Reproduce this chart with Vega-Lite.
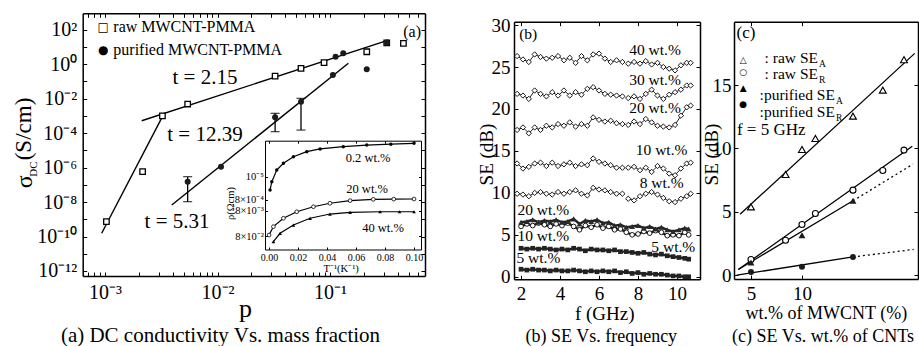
{
"$schema":"https://vega.github.io/schema/vega-lite/v6.json",
"width":919,"height":346,"padding":0,"autosize":{"type":"none"},
"background":"white",
"config":{
 "view":{"stroke":null},
 "font":"Liberation Serif",
 "axis":{"grid":false,"domainColor":"black","tickColor":"black","labelColor":"black","titleColor":"black","labelFont":"Liberation Serif","titleFont":"Liberation Serif","titleFontWeight":"normal","domainWidth":1.5,"tickWidth":1,"labelFlush":false,"labelOverlap":false,"tickSize":-4},
 "text":{"font":"Liberation Serif","color":"black"},
 "point":{"opacity":1}
},
"datasets":{
 "a_fit":[{"id":1,"p":0.000935,"s":1.55e-10},{"id":1,"p":0.0033,"s":0.00112},{"id":2,"p":0.00212,"s":0.000513},{"id":2,"p":0.33,"s":24.5},{"id":3,"p":0.00392,"s":6.76e-9},{"id":3,"p":0.1456,"s":1.1}],
 "a_raw":[{"p":0.00103,"s":7.24e-10},{"p":0.00216,"s":5.75e-7},{"p":0.00324,"s":0.000977},{"p":0.00543,"s":0.00479},{"p":0.0325,"s":0.2},{"p":0.0552,"s":0.562},{"p":0.0885,"s":1.2},{"p":0.212,"s":5.13},{"p":0.319,"s":17},{"p":0.449,"s":15.8}],
 "a_pur":[{"p":0.00543,"s":1.51e-7,"lo":1.05e-8,"hi":2.95e-7},{"p":0.01074,"s":1.12e-6},{"p":0.0325,"s":0.000813,"lo":0.00012,"hi":0.00138},{"p":0.0552,"s":0.00646,"lo":0.000148,"hi":0.0102},{"p":0.106,"s":0.229},{"p":0.112,"s":2.63},{"p":0.131,"s":4.17},{"p":0.212,"s":0.49},{"p":0.319,"s":17.8}],
 "a_txt":[{"p":0.00774,"s":0.155,"t":"t = 2.15"},{"p":0.00774,"s":0.000076,"t":"t = 12.39"},{"p":0.00437,"s":6.9e-10,"t":"t = 5.31"}],
 "a_leg":[{"p":0.001186,"s":135,"t":"raw MWCNT-PMMA"},{"p":0.001186,"s":6.46,"t":"purified MWCNT-PMMA"},{"p":0.447,"s":72,"t":"(a)"}],
 "a_sym":[{"p":0.000966,"s":135,"t":"□"},{"p":0.000966,"s":6.46,"t":"●"}],
 "a_sig":[{"p":0.000223,"s":1.5e-7,"t":"σ"}],
 "a_dc":[{"p":0.000247,"s":8.2e-7,"t":"DC"}],
 "ins":[
  {"c":"0.2","T":0.0007,"r":0.547},{"c":"0.2","T":0.0019,"r":0.623},{"c":"0.2","T":0.0053,"r":0.731},{"c":"0.2","T":0.0099,"r":0.792},{"c":"0.2","T":0.0168,"r":0.853},{"c":"0.2","T":0.026,"r":0.899},{"c":"0.2","T":0.0352,"r":0.924},{"c":"0.2","T":0.0512,"r":0.945},{"c":"0.2","T":0.0674,"r":0.96},{"c":"0.2","T":0.084,"r":0.968},{"c":"0.2","T":0.1,"r":0.976},
  {"c":"20","T":0.0,"r":0.133},{"c":"20","T":0.003,"r":0.21},{"c":"20","T":0.0099,"r":0.287},{"c":"20","T":0.0191,"r":0.347},{"c":"20","T":0.0306,"r":0.393},{"c":"20","T":0.042,"r":0.425},{"c":"20","T":0.0559,"r":0.449},{"c":"20","T":0.0719,"r":0.461},{"c":"20","T":0.086,"r":0.463},{"c":"20","T":0.1,"r":0.464},
  {"c":"40","T":0.003,"r":0.072},{"c":"40","T":0.0076,"r":0.149},{"c":"40","T":0.0168,"r":0.225},{"c":"40","T":0.0283,"r":0.287},{"c":"40","T":0.042,"r":0.326},{"c":"40","T":0.0559,"r":0.342},{"c":"40","T":0.0766,"r":0.347},{"c":"40","T":0.09,"r":0.347},{"c":"40","T":0.1,"r":0.347}],
 "ins_t":[{"T":0.0683,"r":0.841,"t":"0.2 wt.%"},{"T":0.0676,"r":0.556,"t":"20 wt.%"},{"T":0.0786,"r":0.198,"t":"40 wt.%"}],
 "braw":[
  {"s":"40","g":1,"f":1.8,"v":26.3},{"s":"40","g":1,"f":2.1,"v":25.9},{"s":"40","g":1,"f":2.4,"v":25.6},{"s":"40","g":1,"f":2.7,"v":26.5},{"s":"40","g":1,"f":3.0,"v":26.2},{"s":"40","g":1,"f":3.3,"v":26.0},{"s":"40","g":1,"f":3.6,"v":26.1},{"s":"40","g":1,"f":3.9,"v":26.3},{"s":"40","g":1,"f":4.2,"v":25.8},{"s":"40","g":1,"f":4.5,"v":26.1},{"s":"40","g":1,"f":4.8,"v":25.5},{"s":"40","g":1,"f":5.1,"v":26.3},{"s":"40","g":1,"f":5.4,"v":25.8},{"s":"40","g":1,"f":5.7,"v":26.5},{"s":"40","g":1,"f":6.0,"v":26.6},{"s":"40","g":1,"f":6.3,"v":26.0},{"s":"40","g":1,"f":6.6,"v":25.6},{"s":"40","g":1,"f":6.9,"v":25.8},{"s":"40","g":1,"f":7.2,"v":25.6},
  {"s":"40","g":2,"f":7.5,"v":25.4},{"s":"40","g":2,"f":7.8,"v":25.6},{"s":"40","g":2,"f":8.1,"v":25.4},{"s":"40","g":2,"f":8.4,"v":25.7},{"s":"40","g":2,"f":8.7,"v":25.3},{"s":"40","g":2,"f":9.0,"v":25.5},{"s":"40","g":2,"f":9.3,"v":25.0},{"s":"40","g":2,"f":9.6,"v":24.8},{"s":"40","g":2,"f":9.9,"v":24.6},{"s":"40","g":2,"f":10.2,"v":25.2},{"s":"40","g":2,"f":10.5,"v":25.5},{"s":"40","g":2,"f":10.7,"v":25.5},
  {"s":"30","g":1,"f":1.8,"v":21.8},{"s":"30","g":1,"f":2.1,"v":21.6},{"s":"30","g":1,"f":2.4,"v":21.2},{"s":"30","g":1,"f":2.7,"v":22.2},{"s":"30","g":1,"f":3.0,"v":21.8},{"s":"30","g":1,"f":3.3,"v":21.5},{"s":"30","g":1,"f":3.6,"v":22.0},{"s":"30","g":1,"f":3.9,"v":21.6},{"s":"30","g":1,"f":4.2,"v":22.2},{"s":"30","g":1,"f":4.5,"v":21.6},{"s":"30","g":1,"f":4.8,"v":22.0},{"s":"30","g":1,"f":5.1,"v":21.7},{"s":"30","g":1,"f":5.4,"v":22.4},{"s":"30","g":1,"f":5.7,"v":22.6},{"s":"30","g":1,"f":6.0,"v":22.2},{"s":"30","g":1,"f":6.3,"v":21.8},{"s":"30","g":1,"f":6.6,"v":21.7},{"s":"30","g":1,"f":6.9,"v":21.6},{"s":"30","g":1,"f":7.2,"v":21.5},
  {"s":"30","g":2,"f":7.5,"v":21.3},{"s":"30","g":2,"f":7.8,"v":21.5},{"s":"30","g":2,"f":8.1,"v":21.2},{"s":"30","g":2,"f":8.4,"v":21.8},{"s":"30","g":2,"f":8.7,"v":22.3},{"s":"30","g":2,"f":9.0,"v":21.6},{"s":"30","g":2,"f":9.3,"v":21.2},{"s":"30","g":2,"f":9.6,"v":21.7},{"s":"30","g":2,"f":9.9,"v":22.0},{"s":"30","g":2,"f":10.2,"v":22.3},{"s":"30","g":2,"f":10.5,"v":22.8},{"s":"30","g":2,"f":10.7,"v":22.8},
  {"s":"20","g":1,"f":1.8,"v":17.5},{"s":"20","g":1,"f":2.1,"v":17.8},{"s":"20","g":1,"f":2.4,"v":17.1},{"s":"20","g":1,"f":2.7,"v":17.8},{"s":"20","g":1,"f":3.0,"v":17.5},{"s":"20","g":1,"f":3.3,"v":18.0},{"s":"20","g":1,"f":3.6,"v":17.8},{"s":"20","g":1,"f":3.9,"v":18.2},{"s":"20","g":1,"f":4.2,"v":18.0},{"s":"20","g":1,"f":4.5,"v":18.4},{"s":"20","g":1,"f":4.8,"v":17.9},{"s":"20","g":1,"f":5.1,"v":18.2},{"s":"20","g":1,"f":5.4,"v":18.0},{"s":"20","g":1,"f":5.7,"v":19.0},{"s":"20","g":1,"f":6.0,"v":18.7},{"s":"20","g":1,"f":6.3,"v":18.5},{"s":"20","g":1,"f":6.6,"v":18.6},{"s":"20","g":1,"f":6.9,"v":18.3},{"s":"20","g":1,"f":7.2,"v":18.2},
  {"s":"20","g":2,"f":7.5,"v":18.1},{"s":"20","g":2,"f":7.8,"v":18.5},{"s":"20","g":2,"f":8.1,"v":18.2},{"s":"20","g":2,"f":8.4,"v":18.8},{"s":"20","g":2,"f":8.7,"v":18.4},{"s":"20","g":2,"f":9.0,"v":18.0},{"s":"20","g":2,"f":9.3,"v":17.9},{"s":"20","g":2,"f":9.6,"v":17.8},{"s":"20","g":2,"f":9.9,"v":18.1},{"s":"20","g":2,"f":10.2,"v":19.2},{"s":"20","g":2,"f":10.5,"v":20.2},{"s":"20","g":2,"f":10.7,"v":20.4},
  {"s":"10","g":1,"f":1.8,"v":13.5},{"s":"10","g":1,"f":2.1,"v":12.9},{"s":"10","g":1,"f":2.4,"v":13.1},{"s":"10","g":1,"f":2.7,"v":13.5},{"s":"10","g":1,"f":3.0,"v":13.6},{"s":"10","g":1,"f":3.3,"v":13.2},{"s":"10","g":1,"f":3.6,"v":13.6},{"s":"10","g":1,"f":3.9,"v":13.2},{"s":"10","g":1,"f":4.2,"v":13.4},{"s":"10","g":1,"f":4.5,"v":13.6},{"s":"10","g":1,"f":4.8,"v":13.2},{"s":"10","g":1,"f":5.1,"v":13.4},{"s":"10","g":1,"f":5.4,"v":13.3},{"s":"10","g":1,"f":5.7,"v":14.1},{"s":"10","g":1,"f":6.0,"v":13.7},{"s":"10","g":1,"f":6.3,"v":13.5},{"s":"10","g":1,"f":6.6,"v":13.3},{"s":"10","g":1,"f":6.9,"v":13.0},{"s":"10","g":1,"f":7.2,"v":13.0},
  {"s":"10","g":2,"f":7.5,"v":13.0},{"s":"10","g":2,"f":7.8,"v":13.1},{"s":"10","g":2,"f":8.1,"v":12.7},{"s":"10","g":2,"f":8.4,"v":13.0},{"s":"10","g":2,"f":8.7,"v":12.5},{"s":"10","g":2,"f":9.0,"v":13.2},{"s":"10","g":2,"f":9.3,"v":12.9},{"s":"10","g":2,"f":9.6,"v":12.3},{"s":"10","g":2,"f":9.9,"v":12.1},{"s":"10","g":2,"f":10.2,"v":12.9},{"s":"10","g":2,"f":10.5,"v":13.5},{"s":"10","g":2,"f":10.7,"v":13.6},
  {"s":"8","g":1,"f":1.8,"v":9.9},{"s":"8","g":1,"f":2.1,"v":9.8},{"s":"8","g":1,"f":2.4,"v":9.6},{"s":"8","g":1,"f":2.7,"v":10.0},{"s":"8","g":1,"f":3.0,"v":10.1},{"s":"8","g":1,"f":3.3,"v":9.9},{"s":"8","g":1,"f":3.6,"v":9.8},{"s":"8","g":1,"f":3.9,"v":10.1},{"s":"8","g":1,"f":4.2,"v":9.9},{"s":"8","g":1,"f":4.5,"v":10.1},{"s":"8","g":1,"f":4.8,"v":10.3},{"s":"8","g":1,"f":5.1,"v":9.9},{"s":"8","g":1,"f":5.4,"v":9.7},{"s":"8","g":1,"f":5.7,"v":10.6},{"s":"8","g":1,"f":6.0,"v":10.4},{"s":"8","g":1,"f":6.3,"v":10.3},{"s":"8","g":1,"f":6.6,"v":10.1},{"s":"8","g":1,"f":6.9,"v":9.9},{"s":"8","g":1,"f":7.2,"v":9.9},
  {"s":"8","g":2,"f":7.5,"v":9.3},{"s":"8","g":2,"f":7.8,"v":9.1},{"s":"8","g":2,"f":8.1,"v":9.6},{"s":"8","g":2,"f":8.4,"v":9.9},{"s":"8","g":2,"f":8.7,"v":10.1},{"s":"8","g":2,"f":9.0,"v":9.8},{"s":"8","g":2,"f":9.3,"v":9.4},{"s":"8","g":2,"f":9.6,"v":9.0},{"s":"8","g":2,"f":9.9,"v":8.9},{"s":"8","g":2,"f":10.2,"v":9.3},{"s":"8","g":2,"f":10.5,"v":9.6},{"s":"8","g":2,"f":10.7,"v":9.9}],
 "bpur":[
  {"s":"p20","f":2.0,"v":6.5},{"s":"p20","f":2.3,"v":6.6},{"s":"p20","f":2.6,"v":6.8},{"s":"p20","f":2.9,"v":6.5},{"s":"p20","f":3.2,"v":6.7},{"s":"p20","f":3.5,"v":6.6},{"s":"p20","f":3.8,"v":6.8},{"s":"p20","f":4.1,"v":6.5},{"s":"p20","f":4.4,"v":6.6},{"s":"p20","f":4.7,"v":6.9},{"s":"p20","f":5.0,"v":6.3},{"s":"p20","f":5.3,"v":6.7},{"s":"p20","f":5.6,"v":6.6},{"s":"p20","f":5.9,"v":6.8},{"s":"p20","f":6.2,"v":6.4},{"s":"p20","f":6.5,"v":6.5},{"s":"p20","f":6.8,"v":6.1},{"s":"p20","f":7.1,"v":6.2},{"s":"p20","f":7.4,"v":5.9},{"s":"p20","f":7.7,"v":6.0},{"s":"p20","f":8.0,"v":6.1},{"s":"p20","f":8.3,"v":5.8},{"s":"p20","f":8.6,"v":6.0},{"s":"p20","f":8.9,"v":5.7},{"s":"p20","f":9.2,"v":5.9},{"s":"p20","f":9.5,"v":5.6},{"s":"p20","f":9.8,"v":5.4},{"s":"p20","f":10.1,"v":5.6},{"s":"p20","f":10.4,"v":5.8},{"s":"p20","f":10.6,"v":5.7},
  {"s":"p10","f":2.0,"v":6.0},{"s":"p10","f":2.3,"v":6.3},{"s":"p10","f":2.6,"v":6.1},{"s":"p10","f":2.9,"v":6.4},{"s":"p10","f":3.2,"v":6.2},{"s":"p10","f":3.5,"v":6.0},{"s":"p10","f":3.8,"v":6.3},{"s":"p10","f":4.1,"v":6.1},{"s":"p10","f":4.4,"v":6.4},{"s":"p10","f":4.7,"v":6.0},{"s":"p10","f":5.0,"v":5.6},{"s":"p10","f":5.3,"v":6.1},{"s":"p10","f":5.6,"v":5.9},{"s":"p10","f":5.9,"v":6.2},{"s":"p10","f":6.2,"v":5.8},{"s":"p10","f":6.5,"v":6.0},{"s":"p10","f":6.8,"v":5.6},{"s":"p10","f":7.1,"v":5.7},{"s":"p10","f":7.4,"v":5.3},{"s":"p10","f":7.7,"v":5.0},{"s":"p10","f":8.0,"v":5.1},{"s":"p10","f":8.3,"v":5.4},{"s":"p10","f":8.6,"v":5.2},{"s":"p10","f":8.9,"v":5.5},{"s":"p10","f":9.2,"v":5.3},{"s":"p10","f":9.5,"v":4.9},{"s":"p10","f":9.8,"v":5.0},{"s":"p10","f":10.1,"v":4.9},{"s":"p10","f":10.4,"v":5.3},{"s":"p10","f":10.6,"v":5.0},
  {"s":"p5a","f":2.0,"v":3.4},{"s":"p5a","f":2.3,"v":3.3},{"s":"p5a","f":2.6,"v":3.4},{"s":"p5a","f":2.9,"v":3.3},{"s":"p5a","f":3.2,"v":3.4},{"s":"p5a","f":3.5,"v":3.3},{"s":"p5a","f":3.8,"v":3.2},{"s":"p5a","f":4.1,"v":3.3},{"s":"p5a","f":4.4,"v":3.2},{"s":"p5a","f":4.7,"v":3.4},{"s":"p5a","f":5.0,"v":3.3},{"s":"p5a","f":5.3,"v":3.1},{"s":"p5a","f":5.6,"v":3.3},{"s":"p5a","f":5.9,"v":3.2},{"s":"p5a","f":6.2,"v":3.2},{"s":"p5a","f":6.5,"v":3.1},{"s":"p5a","f":6.8,"v":3.2},{"s":"p5a","f":7.1,"v":3.0},{"s":"p5a","f":7.4,"v":3.0},{"s":"p5a","f":7.7,"v":2.9},{"s":"p5a","f":8.0,"v":2.8},{"s":"p5a","f":8.3,"v":2.9},{"s":"p5a","f":8.6,"v":2.7},{"s":"p5a","f":8.9,"v":2.6},{"s":"p5a","f":9.2,"v":2.7},{"s":"p5a","f":9.5,"v":2.5},{"s":"p5a","f":9.8,"v":2.4},{"s":"p5a","f":10.1,"v":2.3},{"s":"p5a","f":10.4,"v":2.2},{"s":"p5a","f":10.6,"v":2.1},
  {"s":"p5b","f":2.0,"v":0.9},{"s":"p5b","f":2.3,"v":0.8},{"s":"p5b","f":2.6,"v":0.9},{"s":"p5b","f":2.9,"v":0.8},{"s":"p5b","f":3.2,"v":0.8},{"s":"p5b","f":3.5,"v":0.7},{"s":"p5b","f":3.8,"v":0.8},{"s":"p5b","f":4.1,"v":0.7},{"s":"p5b","f":4.4,"v":0.7},{"s":"p5b","f":4.7,"v":0.8},{"s":"p5b","f":5.0,"v":0.7},{"s":"p5b","f":5.3,"v":0.6},{"s":"p5b","f":5.6,"v":0.7},{"s":"p5b","f":5.9,"v":0.6},{"s":"p5b","f":6.2,"v":0.7},{"s":"p5b","f":6.5,"v":0.6},{"s":"p5b","f":6.8,"v":0.7},{"s":"p5b","f":7.1,"v":0.5},{"s":"p5b","f":7.4,"v":0.6},{"s":"p5b","f":7.7,"v":0.4},{"s":"p5b","f":8.0,"v":0.5},{"s":"p5b","f":8.3,"v":0.3},{"s":"p5b","f":8.6,"v":0.4},{"s":"p5b","f":8.9,"v":0.3},{"s":"p5b","f":9.2,"v":0.3},{"s":"p5b","f":9.5,"v":0.2},{"s":"p5b","f":9.8,"v":0.1},{"s":"p5b","f":10.1,"v":0.1},{"s":"p5b","f":10.4,"v":0.0},{"s":"p5b","f":10.6,"v":0.0}],
 "b_t":[{"f":8.87,"v":27.0,"t":"40 wt.%"},{"f":8.87,"v":23.4,"t":"30 wt.%"},{"f":8.87,"v":20.1,"t":"20 wt.%"},{"f":9.21,"v":15.08,"t":"10 wt.%"},{"f":9.21,"v":11.12,"t":"8 wt.%"},{"f":3.14,"v":7.94,"t":"20 wt.%"},{"f":3.14,"v":4.88,"t":"10 wt.%"},{"f":9.81,"v":3.5,"t":"5 wt.%"},{"f":2.89,"v":2.19,"t":"5 wt.%"},{"f":2.37,"v":28.98,"t":"(b)"}],
 "c_fit":[{"id":"a","w":4.31,"v":4.81},{"id":"a","w":46.3,"v":17.5},{"id":"r","w":4.21,"v":0.45},{"id":"r","w":44.8,"v":10.18},{"id":"pa","w":4.21,"v":0.45},{"id":"pa","w":20,"v":5.87},{"id":"pr","w":4.12,"v":0.0},{"id":"pr","w":20,"v":1.44}],
 "c_dot":[{"id":"pa","w":20,"v":5.87},{"id":"pa","w":45.2,"v":8.76},{"id":"pr","w":20,"v":1.44},{"id":"pr","w":45.6,"v":2.03}],
 "c_pts":[{"k":"rA","w":5,"v":5.39},{"k":"rA","w":8,"v":7.95},{"k":"rA","w":10,"v":9.92},{"k":"rA","w":12,"v":10.79},{"k":"rA","w":20,"v":12.55},{"k":"rA","w":30,"v":14.6},{"k":"rA","w":40,"v":17.0},{"k":"rR","w":5,"v":1.24},{"k":"rR","w":8,"v":2.76},{"k":"rR","w":10,"v":4.0},{"k":"rR","w":12,"v":4.87},{"k":"rR","w":20,"v":6.71},{"k":"rR","w":30,"v":8.26},{"k":"rR","w":40,"v":9.87},{"k":"pA","w":5,"v":1.0},{"k":"pA","w":10,"v":3.16},{"k":"pA","w":20,"v":5.87},{"k":"pR","w":5,"v":0.26},{"k":"pR","w":10,"v":0.66},{"k":"pR","w":20,"v":1.44}],
 "c_leg":[{"w":12.43,"v":17.13,"t":": raw SE","u":"A"},{"w":12.43,"v":15.86,"t":": raw SE","u":"R"},{"w":15.65,"v":14.2,"t":":purified SE","u":"A"},{"w":15.65,"v":12.87,"t":":purified SE","u":"R"}],
 "c_sym":[{"w":4.5,"v":16.97,"t":"△"},{"w":4.5,"v":16.05,"t":"○"},{"w":4.5,"v":14.74,"t":"▲"},{"w":4.5,"v":13.5,"t":"●"}],
 "c_misc":[{"w":4.11,"v":19.08,"t":"(c)"},{"w":4.13,"v":11.44,"t":"f = 5 GHz"}]
},
"layer":[
 {
  "layer":[
   {"data":{"name":"a_fit"},"mark":{"type":"line","color":"black","strokeWidth":1.4},
    "encoding":{
     "x":{"field":"p","type":"quantitative","scale":{"type":"log","domain":[0.000634,0.698],"range":[82.7,425],"nice":false},
      "axis":{"orient":"bottom","offset":-70,"values":[0.0007,0.0008,0.0009,0.001,0.002,0.003,0.004,0.005,0.006,0.007,0.008,0.009,0.01,0.02,0.03,0.04,0.05,0.06,0.07,0.08,0.09,0.1,0.2,0.3,0.4,0.5,0.6],"labelExpr":"datum.value == 0.001 ? '10⁻³' : datum.value == 0.01 ? '10⁻²' : datum.value == 0.1 ? '10⁻¹' : ''","labelPadding":20,"labelBaseline":"middle","labelFontSize":20,"labelFont":"Liberation Serif","title":"p","titleFont":"Liberation Serif","titleFontSize":26,"titleX":245,"titleY":32,"titleBaseline":"middle","titleAlign":"center"}},
     "y":{"field":"s","type":"quantitative","scale":{"type":"log","domain":[5.13e-13,871],"range":[276,13.3],"nice":false},
      "axis":{"orient":"left","offset":-82.7,"values":[1e-12,1e-11,1e-10,1e-9,1e-8,1e-7,1e-6,1e-5,1e-4,1e-3,0.01,0.1,1,10,100],"labelExpr":"datum.value == 100 ? '10²' : datum.value == 1 ? '10⁰' : datum.value == 0.01 ? '10⁻²' : datum.value == 0.0001 ? '10⁻⁴' : datum.value == 0.000001 ? '10⁻⁶' : datum.value == 1e-8 ? '10⁻⁸' : datum.value == 1e-10 ? '10⁻¹⁰' : datum.value == 1e-12 ? '10⁻¹²' : ''","labelPadding":10,"labelFontSize":20,"labelFont":"Liberation Serif","title":"(S/cm)","titleFont":"Liberation Serif","titleFontSize":23,"titleX":-59.2,"titleY":128.5,"titleAngle":-90,"titleBaseline":"middle","titleAlign":"center"}},
     "detail":{"field":"id"}}},
   {"data":{"name":"a_raw"},"mark":{"type":"point","shape":"square","size":30,"filled":true,"fill":"white","stroke":"black","strokeWidth":1.3},
    "encoding":{
     "x":{"field":"p","type":"quantitative","scale":{"type":"log","domain":[0.000634,0.698],"range":[82.7,425],"nice":false},
      "axis":{"orient":"top","offset":-13.3,"values":[0.0007,0.0008,0.0009,0.001,0.002,0.003,0.004,0.005,0.006,0.007,0.008,0.009,0.01,0.02,0.03,0.04,0.05,0.06,0.07,0.08,0.09,0.1,0.2,0.3,0.4,0.5,0.6],"labels":false,"title":null}},
     "y":{"field":"s","type":"quantitative","scale":{"type":"log","domain":[5.13e-13,871],"range":[276,13.3],"nice":false},
      "axis":{"orient":"right","offset":-494,"values":[1e-12,1e-11,1e-10,1e-9,1e-8,1e-7,1e-6,1e-5,1e-4,1e-3,0.01,0.1,1,10,100],"labels":false,"title":null}}}},
   {"data":{"name":"a_pur"},"transform":[{"filter":"isValid(datum.lo)"}],"mark":{"type":"rule","color":"black","strokeWidth":1.3},
    "encoding":{
     "x":{"field":"p","type":"quantitative","scale":{"type":"log","domain":[0.000634,0.698],"range":[82.7,425],"nice":false},"axis":null},
     "y":{"field":"lo","type":"quantitative","scale":{"type":"log","domain":[5.13e-13,871],"range":[276,13.3],"nice":false},"axis":null},
     "y2":{"field":"hi"}}},
   {"data":{"name":"a_pur"},"transform":[{"filter":"isValid(datum.lo)"}],"mark":{"type":"tick","orient":"horizontal","size":9,"thickness":1.3,"color":"black"},
    "encoding":{
     "x":{"field":"p","type":"quantitative","scale":{"type":"log","domain":[0.000634,0.698],"range":[82.7,425],"nice":false},"axis":null},
     "y":{"field":"lo","type":"quantitative","scale":{"type":"log","domain":[5.13e-13,871],"range":[276,13.3],"nice":false},"axis":null}}},
   {"data":{"name":"a_pur"},"transform":[{"filter":"isValid(datum.lo)"}],"mark":{"type":"tick","orient":"horizontal","size":9,"thickness":1.3,"color":"black"},
    "encoding":{
     "x":{"field":"p","type":"quantitative","scale":{"type":"log","domain":[0.000634,0.698],"range":[82.7,425],"nice":false},"axis":null},
     "y":{"field":"hi","type":"quantitative","scale":{"type":"log","domain":[5.13e-13,871],"range":[276,13.3],"nice":false},"axis":null}}},
   {"data":{"name":"a_pur"},"mark":{"type":"point","shape":"circle","size":36,"filled":true,"color":"#1a1a1a"},
    "encoding":{
     "x":{"field":"p","type":"quantitative","scale":{"type":"log","domain":[0.000634,0.698],"range":[82.7,425],"nice":false},"axis":null},
     "y":{"field":"s","type":"quantitative","scale":{"type":"log","domain":[5.13e-13,871],"range":[276,13.3],"nice":false},"axis":null}}},
   {"data":{"name":"a_txt"},"mark":{"type":"text","fontSize":21,"align":"center","baseline":"middle"},
    "encoding":{
     "x":{"field":"p","type":"quantitative","scale":{"type":"log","domain":[0.000634,0.698],"range":[82.7,425],"nice":false},
      "axis":{"orient":"bottom","offset":-70,"domain":false,"ticks":false,"labels":false,"title":"(a) DC conductivity Vs. mass fraction","titleFont":"Liberation Serif","titleFontSize":21,"titleX":220,"titleY":59,"titleBaseline":"middle","titleAlign":"center"}},
     "y":{"field":"s","type":"quantitative","scale":{"type":"log","domain":[5.13e-13,871],"range":[276,13.3],"nice":false},"axis":null},
     "text":{"field":"t"}}},
   {"data":{"name":"a_leg"},"mark":{"type":"text","fontSize":16,"align":"left","baseline":"middle"},
    "encoding":{
     "x":{"field":"p","type":"quantitative","scale":{"type":"log","domain":[0.000634,0.698],"range":[82.7,425],"nice":false},"axis":null},
     "y":{"field":"s","type":"quantitative","scale":{"type":"log","domain":[5.13e-13,871],"range":[276,13.3],"nice":false},"axis":null},
     "text":{"field":"t"}}},
   {"data":{"name":"a_sym"},"mark":{"type":"text","fontSize":12,"align":"center","baseline":"middle","font":"DejaVu Sans"},
    "encoding":{
     "x":{"field":"p","type":"quantitative","scale":{"type":"log","domain":[0.000634,0.698],"range":[82.7,425],"nice":false},"axis":null},
     "y":{"field":"s","type":"quantitative","scale":{"type":"log","domain":[5.13e-13,871],"range":[276,13.3],"nice":false},"axis":null},
     "text":{"field":"t"}}},
   {"data":{"name":"a_sig"},"mark":{"type":"text","fontSize":24,"align":"center","baseline":"alphabetic","angle":270},
    "encoding":{
     "x":{"field":"p","type":"quantitative","scale":{"type":"log","domain":[0.000634,0.698],"range":[82.7,425],"nice":false},"axis":null},
     "y":{"field":"s","type":"quantitative","scale":{"type":"log","domain":[5.13e-13,871],"range":[276,13.3],"nice":false},"axis":null},
     "text":{"field":"t"}}},
   {"data":{"name":"a_dc"},"mark":{"type":"text","fontSize":11,"align":"center","baseline":"alphabetic","angle":270},
    "encoding":{
     "x":{"field":"p","type":"quantitative","scale":{"type":"log","domain":[0.000634,0.698],"range":[82.7,425],"nice":false},"axis":null},
     "y":{"field":"s","type":"quantitative","scale":{"type":"log","domain":[5.13e-13,871],"range":[276,13.3],"nice":false},"axis":null},
     "text":{"field":"t"}}}
  ],
  "resolve":{"axis":{"x":"independent","y":"independent"}}
 },
 {
  "data":{"name":"ins"},
  "layer":[
   {"mark":{"type":"line","color":"black","strokeWidth":1.2},
    "encoding":{
     "x":{"field":"T","type":"quantitative","scale":{"domain":[-0.0028,0.1048],"range":[265,421],"nice":false,"zero":false},
      "axis":{"orient":"bottom","offset":-96.5,"values":[0,0.02,0.04,0.06,0.08,0.1],"format":".2f","tickSize":-2.5,"domainWidth":1,"labelPadding":10,"labelBaseline":"middle","labelFontSize":10,"labelFont":"Liberation Serif","title":"T⁻¹(K⁻¹)","titleFont":"Liberation Serif","titleFontSize":10.5,"titleX":340.7,"titleY":18.8,"titleBaseline":"middle","titleAlign":"center"}},
     "y":{"field":"r","type":"quantitative","scale":{"domain":[0,1],"range":[249.5,140.7],"nice":false,"zero":false},
      "axis":{"orient":"left","offset":-265,"values":[0.124,0.354,0.455,0.669],"labelExpr":"datum.value == 0.669 ? '10⁻⁵' : datum.value == 0.455 ? '8×10⁻⁴' : datum.value == 0.354 ? '8×10⁻³' : '8×10⁻²'","tickSize":-2.5,"domainWidth":1,"labelPadding":4,"labelFontSize":10.5,"labelFont":"Liberation Serif","title":"ρ(Ωcm)","titleFont":"Liberation Serif","titleFontSize":10.5,"titleX":-35,"titleY":203,"titleAngle":-90,"titleBaseline":"middle","titleAlign":"center"}},
     "detail":{"field":"c"}}},
   {"transform":[{"filter":"datum.c == '0.2'"}],"mark":{"type":"point","shape":"circle","size":12,"filled":true,"color":"black"},
    "encoding":{
     "x":{"field":"T","type":"quantitative","scale":{"domain":[-0.0028,0.1048],"range":[265,421],"nice":false,"zero":false},
      "axis":{"orient":"top","offset":-140.7,"values":[0,0.02,0.04,0.06,0.08,0.1],"labels":false,"tickSize":-2.5,"domainWidth":1,"title":null}},
     "y":{"field":"r","type":"quantitative","scale":{"domain":[0,1],"range":[249.5,140.7],"nice":false,"zero":false},
      "axis":{"orient":"right","offset":-498,"values":[0.124,0.354,0.455,0.669],"labels":false,"tickSize":-2.5,"domainWidth":1,"title":null}}}},
   {"transform":[{"filter":"datum.c == '20'"}],"mark":{"type":"point","shape":"circle","size":14,"filled":true,"fill":"white","stroke":"black","strokeWidth":0.8},
    "encoding":{
     "x":{"field":"T","type":"quantitative","scale":{"domain":[-0.0028,0.1048],"range":[265,421],"nice":false,"zero":false},"axis":null},
     "y":{"field":"r","type":"quantitative","scale":{"domain":[0,1],"range":[249.5,140.7],"nice":false,"zero":false},"axis":null}}},
   {"transform":[{"filter":"datum.c == '40'"}],"mark":{"type":"point","shape":"triangle-up","size":14,"filled":true,"color":"black"},
    "encoding":{
     "x":{"field":"T","type":"quantitative","scale":{"domain":[-0.0028,0.1048],"range":[265,421],"nice":false,"zero":false},"axis":null},
     "y":{"field":"r","type":"quantitative","scale":{"domain":[0,1],"range":[249.5,140.7],"nice":false,"zero":false},"axis":null}}},
   {"data":{"name":"ins_t"},"mark":{"type":"text","fontSize":12.5,"align":"center","baseline":"middle"},
    "encoding":{
     "x":{"field":"T","type":"quantitative","scale":{"domain":[-0.0028,0.1048],"range":[265,421],"nice":false,"zero":false},"axis":null},
     "y":{"field":"r","type":"quantitative","scale":{"domain":[0,1],"range":[249.5,140.7],"nice":false,"zero":false},"axis":null},
     "text":{"field":"t"}}}
  ],
  "resolve":{"axis":{"x":"independent","y":"independent"}}
 },
 {
  "layer":[
   {"data":{"name":"braw"},"mark":{"type":"line","color":"#222","strokeWidth":1},
    "encoding":{
     "x":{"field":"f","type":"quantitative","scale":{"domain":[1.64,11.18],"range":[514,700],"nice":false,"zero":false},
      "axis":{"orient":"bottom","offset":-66.7,"values":[2,4,6,8,10],"labelPadding":18,"labelBaseline":"middle","labelFontSize":19,"labelFont":"Liberation Serif","title":"f (GHz)","titleFont":"Liberation Serif","titleFontSize":19,"titleX":604.2,"titleY":34,"titleBaseline":"middle","titleAlign":"center"}},
     "y":{"field":"v","type":"quantitative","scale":{"domain":[-0.3,30.4],"range":[279.3,21.7],"nice":false,"zero":false},
      "axis":{"orient":"left","offset":-514,"values":[0,5,10,15,20,25,30],"labelPadding":8,"labelFontSize":19,"labelFont":"Liberation Serif","title":"SE (dB)","titleFont":"Liberation Serif","titleFontSize":19,"titleX":-27.3,"titleY":154,"titleAngle":-90,"titleBaseline":"middle","titleAlign":"center"}},
     "detail":[{"field":"s"},{"field":"g"}]}},
   {"data":{"name":"braw"},"mark":{"type":"point","shape":"diamond","size":28,"filled":true,"fill":"white","stroke":"black","strokeWidth":0.9},
    "encoding":{
     "x":{"field":"f","type":"quantitative","scale":{"domain":[1.64,11.18],"range":[514,700],"nice":false,"zero":false},
      "axis":{"orient":"top","offset":-21.7,"values":[2,4,6,8,10],"labels":false,"title":null}},
     "y":{"field":"v","type":"quantitative","scale":{"domain":[-0.3,30.4],"range":[279.3,21.7],"nice":false,"zero":false},
      "axis":{"orient":"right","offset":-219,"values":[0,5,10,15,20,25,30],"labels":false,"title":null}}}},
   {"data":{"name":"bpur"},"mark":{"type":"line","color":"#222","strokeWidth":2.4},
    "encoding":{
     "x":{"field":"f","type":"quantitative","scale":{"domain":[1.64,11.18],"range":[514,700],"nice":false,"zero":false},"axis":null},
     "y":{"field":"v","type":"quantitative","scale":{"domain":[-0.3,30.4],"range":[279.3,21.7],"nice":false,"zero":false},"axis":null},
     "detail":{"field":"s"}}},
   {"data":{"name":"bpur"},"transform":[{"filter":"datum.s == 'p10'"}],"mark":{"type":"point","shape":"circle","size":22,"filled":true,"fill":"white","stroke":"black","strokeWidth":0.9},
    "encoding":{
     "x":{"field":"f","type":"quantitative","scale":{"domain":[1.64,11.18],"range":[514,700],"nice":false,"zero":false},"axis":null},
     "y":{"field":"v","type":"quantitative","scale":{"domain":[-0.3,30.4],"range":[279.3,21.7],"nice":false,"zero":false},"axis":null}}},
   {"data":{"name":"bpur"},"transform":[{"filter":"datum.s == 'p20'"}],"mark":{"type":"point","shape":"triangle-up","size":34,"filled":true,"color":"#2a2a2a"},
    "encoding":{
     "x":{"field":"f","type":"quantitative","scale":{"domain":[1.64,11.18],"range":[514,700],"nice":false,"zero":false},"axis":null},
     "y":{"field":"v","type":"quantitative","scale":{"domain":[-0.3,30.4],"range":[279.3,21.7],"nice":false,"zero":false},"axis":null}}},
   {"data":{"name":"bpur"},"transform":[{"filter":"datum.s == 'p5a' || datum.s == 'p5b'"}],"mark":{"type":"point","shape":"square","size":22,"filled":true,"color":"#222"},
    "encoding":{
     "x":{"field":"f","type":"quantitative","scale":{"domain":[1.64,11.18],"range":[514,700],"nice":false,"zero":false},"axis":null},
     "y":{"field":"v","type":"quantitative","scale":{"domain":[-0.3,30.4],"range":[279.3,21.7],"nice":false,"zero":false},"axis":null}}},
   {"data":{"name":"b_t"},"mark":{"type":"text","fontSize":15.5,"align":"center","baseline":"middle"},
    "encoding":{
     "x":{"field":"f","type":"quantitative","scale":{"domain":[1.64,11.18],"range":[514,700],"nice":false,"zero":false},
      "axis":{"orient":"bottom","offset":-66.7,"domain":false,"ticks":false,"labels":false,"title":"(b) SE Vs. frequency","titleFont":"Liberation Serif","titleFontSize":18,"titleX":600.8,"titleY":57.4,"titleBaseline":"middle","titleAlign":"center"}},
     "y":{"field":"v","type":"quantitative","scale":{"domain":[-0.3,30.4],"range":[279.3,21.7],"nice":false,"zero":false},"axis":null},
     "text":{"field":"t"}}}
  ],
  "resolve":{"axis":{"x":"independent","y":"independent"}}
 },
 {
  "layer":[
   {"data":{"name":"c_fit"},"mark":{"type":"line","color":"black","strokeWidth":1.3},
    "encoding":{
     "x":{"field":"w","type":"quantitative","scale":{"type":"log","domain":[3.97,48.4],"range":[734,918],"nice":false},
      "axis":{"orient":"bottom","offset":-67,"values":[5,10],"labelPadding":18,"labelBaseline":"middle","labelFontSize":19,"labelFont":"Liberation Serif","title":"wt.% of MWCNT (%)","titleFont":"Liberation Serif","titleFontSize":18,"titleX":825.8,"titleY":34.3,"titleBaseline":"middle","titleAlign":"center"}},
     "y":{"field":"v","type":"quantitative","scale":{"domain":[-0.3,20],"range":[279,21.7],"nice":false,"zero":false},
      "axis":{"orient":"left","offset":-734,"values":[0,5,10,15],"labelPadding":7,"labelFontSize":19,"labelFont":"Liberation Serif","title":"SE (dB)","titleFont":"Liberation Serif","titleFontSize":19,"titleX":-22.3,"titleY":154,"titleAngle":-90,"titleBaseline":"middle","titleAlign":"center"}},
     "detail":{"field":"id"}}},
   {"data":{"name":"c_dot"},"mark":{"type":"line","color":"black","strokeWidth":1.3,"strokeDash":[2,3]},
    "encoding":{
     "x":{"field":"w","type":"quantitative","scale":{"type":"log","domain":[3.97,48.4],"range":[734,918],"nice":false},
      "axis":{"orient":"top","offset":-21.7,"values":[5,10],"labels":false,"title":null}},
     "y":{"field":"v","type":"quantitative","scale":{"domain":[-0.3,20],"range":[279,21.7],"nice":false,"zero":false},
      "axis":{"orient":"right","offset":-1,"values":[0,5,10,15],"labels":false,"title":null}},
     "detail":{"field":"id"}}},
   {"data":{"name":"c_pts"},"transform":[{"filter":"datum.k == 'rA'"}],"mark":{"type":"point","shape":"triangle-up","size":48,"filled":true,"fill":"white","stroke":"black","strokeWidth":1.1},
    "encoding":{
     "x":{"field":"w","type":"quantitative","scale":{"type":"log","domain":[3.97,48.4],"range":[734,918],"nice":false},"axis":null},
     "y":{"field":"v","type":"quantitative","scale":{"domain":[-0.3,20],"range":[279,21.7],"nice":false,"zero":false},"axis":null}}},
   {"data":{"name":"c_pts"},"transform":[{"filter":"datum.k == 'rR'"}],"mark":{"type":"point","shape":"circle","size":36,"filled":true,"fill":"white","stroke":"black","strokeWidth":1.1},
    "encoding":{
     "x":{"field":"w","type":"quantitative","scale":{"type":"log","domain":[3.97,48.4],"range":[734,918],"nice":false},"axis":null},
     "y":{"field":"v","type":"quantitative","scale":{"domain":[-0.3,20],"range":[279,21.7],"nice":false,"zero":false},"axis":null}}},
   {"data":{"name":"c_pts"},"transform":[{"filter":"datum.k == 'pA'"}],"mark":{"type":"point","shape":"triangle-up","size":48,"filled":true,"color":"#1a1a1a"},
    "encoding":{
     "x":{"field":"w","type":"quantitative","scale":{"type":"log","domain":[3.97,48.4],"range":[734,918],"nice":false},"axis":null},
     "y":{"field":"v","type":"quantitative","scale":{"domain":[-0.3,20],"range":[279,21.7],"nice":false,"zero":false},"axis":null}}},
   {"data":{"name":"c_pts"},"transform":[{"filter":"datum.k == 'pR'"}],"mark":{"type":"point","shape":"circle","size":36,"filled":true,"color":"#1a1a1a"},
    "encoding":{
     "x":{"field":"w","type":"quantitative","scale":{"type":"log","domain":[3.97,48.4],"range":[734,918],"nice":false},"axis":null},
     "y":{"field":"v","type":"quantitative","scale":{"domain":[-0.3,20],"range":[279,21.7],"nice":false,"zero":false},"axis":null}}},
   {"data":{"name":"c_leg"},"mark":{"type":"text","fontSize":15.5,"align":"right","baseline":"middle"},
    "encoding":{
     "x":{"field":"w","type":"quantitative","scale":{"type":"log","domain":[3.97,48.4],"range":[734,918],"nice":false},
      "axis":{"orient":"bottom","offset":-67,"domain":false,"ticks":false,"labels":false,"title":"(c) SE Vs. wt.% of CNTs","titleFont":"Liberation Serif","titleFontSize":18,"titleX":822.5,"titleY":57.7,"titleBaseline":"middle","titleAlign":"center"}},
     "y":{"field":"v","type":"quantitative","scale":{"domain":[-0.3,20],"range":[279,21.7],"nice":false,"zero":false},"axis":null},
     "text":{"field":"t"}}},
   {"data":{"name":"c_leg"},"mark":{"type":"text","fontSize":9.5,"align":"left","baseline":"middle","dx":1,"dy":6},
    "encoding":{
     "x":{"field":"w","type":"quantitative","scale":{"type":"log","domain":[3.97,48.4],"range":[734,918],"nice":false},"axis":null},
     "y":{"field":"v","type":"quantitative","scale":{"domain":[-0.3,20],"range":[279,21.7],"nice":false,"zero":false},"axis":null},
     "text":{"field":"u"}}},
   {"data":{"name":"c_sym"},"mark":{"type":"text","fontSize":9,"align":"center","baseline":"middle","font":"DejaVu Sans"},
    "encoding":{
     "x":{"field":"w","type":"quantitative","scale":{"type":"log","domain":[3.97,48.4],"range":[734,918],"nice":false},"axis":null},
     "y":{"field":"v","type":"quantitative","scale":{"domain":[-0.3,20],"range":[279,21.7],"nice":false,"zero":false},"axis":null},
     "text":{"field":"t"}}},
   {"data":{"name":"c_misc"},"mark":{"type":"text","fontSize":17,"align":"left","baseline":"middle"},
    "encoding":{
     "x":{"field":"w","type":"quantitative","scale":{"type":"log","domain":[3.97,48.4],"range":[734,918],"nice":false},"axis":null},
     "y":{"field":"v","type":"quantitative","scale":{"domain":[-0.3,20],"range":[279,21.7],"nice":false,"zero":false},"axis":null},
     "text":{"field":"t"}}}
  ],
  "resolve":{"axis":{"x":"independent","y":"independent"}}
 }
],
"resolve":{"scale":{"x":"independent","y":"independent"},"axis":{"x":"independent","y":"independent"}}
}
